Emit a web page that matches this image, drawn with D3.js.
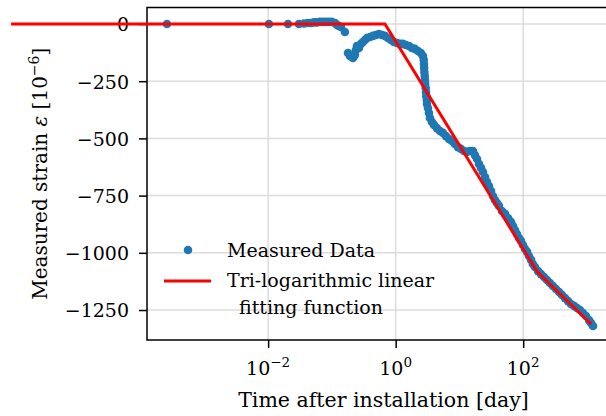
<!DOCTYPE html>
<html>
<head>
<meta charset="utf-8">
<script src="https://cdn.jsdelivr.net/npm/d3@7"></script>
<style>
  body { margin: 0; background: #fff; }
  text { font-family: "DejaVu Serif", serif; fill: #000; }
</style>
</head>
<body>
<svg id="chart" width="606" height="416"></svg>
<script>
// measured strain readings (time in days, strain in 1e-6)
const timeDays = [
  2.59e-4, 0.0103, 0.0205, 0.0304, 0.0365, 0.0421, 0.0469, 0.0522, 0.0582, 0.0650,
  0.0724, 0.0807, 0.0899, 0.100, 0.112, 0.120, 0.129, 0.139, 0.160, 0.179,
  0.192, 0.214, 0.230, 0.238, 0.247, 0.266, 0.286, 0.307, 0.330, 0.355,
  0.395, 0.441, 0.491, 0.547, 0.610, 0.679, 0.757, 0.844, 0.940, 1.05,
  1.17, 1.30, 1.45, 1.62, 1.80, 2.01, 2.24, 2.49, 2.68, 2.76,
  2.78, 2.80, 2.82, 2.86, 2.88, 2.90, 2.96, 2.99, 3.02, 3.08,
  3.10, 3.21, 3.33, 3.45, 3.71, 3.99, 4.44, 4.95, 5.52, 6.15,
  6.86, 7.64, 8.51, 9.49, 10.6, 11.8, 13.1, 14.6, 16.3, 17.5,
  18.9, 20.3, 21.8, 23.4, 25.2, 27.0, 29.1, 31.3, 33.6, 36.1,
  38.8, 41.7, 46.5, 51.9, 57.8, 64.4, 69.2, 74.4, 79.9, 85.9,
  92.3, 99.3, 107, 115, 123, 133, 142, 153, 171, 190,
  212, 236, 263, 293, 327, 365, 406, 453, 505, 562,
  627, 698, 778, 867, 966, 1077, 1158, 1245
];
const strainMeasured = [
  0, 0, 0, 0, 2, 4, 4, 7, 7, 9,
  9, 9, 9, 9, 4, -4, -9, -13, -35, -127,
  -140, -149, -135, -114, -96, -105, -87, -79, -70, -61,
  -57, -52, -48, -44, -48, -52, -61, -70, -79, -83,
  -87, -87, -92, -96, -105, -109, -118, -127, -140, -157,
  -175, -192, -210, -227, -245, -262, -280, -297, -315, -332,
  -350, -367, -389, -411, -428, -441, -455, -468, -476, -490,
  -503, -511, -524, -538, -546, -555, -559, -555, -555, -573,
  -590, -612, -629, -647, -669, -690, -708, -730, -752, -769,
  -782, -795, -817, -830, -848, -865, -883, -900, -918, -935,
  -948, -966, -983, -996, -1014, -1031, -1049, -1062, -1080, -1093,
  -1106, -1119, -1132, -1145, -1158, -1171, -1184, -1198, -1211, -1224,
  -1232, -1241, -1250, -1263, -1276, -1294, -1307, -1320
];

// tri-logarithmic linear fit: breakpoints
const fitTimes = [9.3e-7, 0.68, 165, 1170];
const fitStrain = [0, 0, -1082, -1312];

const yTicks = [0, -250, -500, -750, -1000, -1250];
const xTickExps = [-2, 0, 2];

const legendLabels = ["Measured Data", "Tri-logarithmic linear", "fitting function"];

const svg = d3.select("#chart");
const plotLeft = 147, plotRight = 620, plotTop = 7.5, plotBottom = 340;

const x = d3.scaleLog().domain([1.26e-4, 3300]).range([plotLeft, plotRight]);
const y = d3.scaleLinear().domain([-1381, 72]).range([plotBottom, plotTop]);

// grid
const grid = svg.append("g");
grid.selectAll(".gx")
    .data(xTickExps)
    .enter().append("line")
    .attr("x1", d => x(Math.pow(10, d)))
    .attr("x2", d => x(Math.pow(10, d)))
    .attr("y1", plotTop).attr("y2", plotBottom)
    .attr("stroke", "#dcdcdc").attr("stroke-width", 1.5);
grid.selectAll(".gy")
    .data(yTicks)
    .enter().append("line")
    .attr("x1", plotLeft).attr("x2", plotRight)
    .attr("y1", d => y(d)).attr("y2", d => y(d))
    .attr("stroke", "#dcdcdc").attr("stroke-width", 1.5);

// scatter, clipped to the axes
svg.append("clipPath").attr("id", "plotclip")
    .append("rect").attr("x", plotLeft).attr("y", plotTop)
    .attr("width", plotRight - plotLeft).attr("height", plotBottom - plotTop);

svg.append("g").attr("clip-path", "url(#plotclip)")
    .selectAll("circle")
    .data(timeDays.map((t, i) => [t, strainMeasured[i]]))
    .enter().append("circle")
    .attr("cx", d => x(d[0]))
    .attr("cy", d => y(d[1]))
    .attr("r", 4.3)
    .attr("fill", "#1f77b4");

// spines
svg.append("rect")
    .attr("x", plotLeft).attr("y", plotTop)
    .attr("width", plotRight - plotLeft).attr("height", plotBottom - plotTop)
    .attr("fill", "none").attr("stroke", "#000").attr("stroke-width", 1.5);

// y axis
const yAxis = svg.append("g")
    .attr("transform", `translate(${plotLeft},0)`)
    .call(d3.axisLeft(y).tickValues(yTicks).tickFormat(d3.format("d"))
        .tickSize(8).tickSizeOuter(0).tickPadding(10));
yAxis.select(".domain").remove();
yAxis.selectAll(".tick line").attr("stroke", "#000").attr("stroke-width", 1.5);
yAxis.selectAll(".tick text")
    .style("font-family", "'DejaVu Serif', serif")
    .style("font-size", "19px")
    .attr("dy", "0.36em");

// x axis
const xAxis = svg.append("g")
    .attr("transform", `translate(0,${plotBottom})`)
    .call(d3.axisBottom(x).tickValues(xTickExps.map(e => Math.pow(10, e)))
        .tickSize(8).tickSizeOuter(0).tickFormat(""));
xAxis.select(".domain").remove();
xAxis.selectAll(".tick line").attr("stroke", "#000").attr("stroke-width", 1.5);

xTickExps.forEach(e => {
    const t = svg.append("text")
        .attr("x", x(Math.pow(10, e)))
        .attr("y", 375)
        .attr("text-anchor", "middle")
        .style("font-size", "19px");
    t.append("tspan").text("10");
    t.append("tspan").attr("dy", -8).style("font-size", "13.5px")
        .text(e < 0 ? "\u2212" + Math.abs(e) : String(e));
});

// axis labels
svg.append("text")
    .attr("x", (plotLeft + plotRight) / 2)
    .attr("y", 407)
    .attr("text-anchor", "middle")
    .style("font-size", "20.5px")
    .text("Time after installation [day]");

const yl = svg.append("text")
    .attr("transform", `translate(47,${(plotTop + plotBottom) / 2}) rotate(-90)`)
    .attr("text-anchor", "middle")
    .style("font-size", "20px");
yl.append("tspan").text("Measured strain ");
yl.append("tspan").style("font-style", "italic").text("\u03b5");
yl.append("tspan").text(" [10");
yl.append("tspan").attr("dy", -8).style("font-size", "14px").text("\u22126");
yl.append("tspan").attr("dy", 8).text("]");

// fit line (not clipped, extends past the left spine)
svg.append("path")
    .datum(fitTimes.map((t, i) => [t, fitStrain[i]]))
    .attr("d", d3.line().x(d => x(d[0])).y(d => y(d[1])))
    .attr("fill", "none")
    .attr("stroke", "#ff0000")
    .attr("stroke-width", 3);

// legend
const lg = svg.append("g");
lg.append("circle").attr("cx", 188).attr("cy", 250).attr("r", 4.3).attr("fill", "#1f77b4");
lg.append("line").attr("x1", 164).attr("x2", 211).attr("y1", 281).attr("y2", 281)
    .attr("stroke", "#ff0000").attr("stroke-width", 3);
lg.append("text").attr("x", 227).attr("y", 257).style("font-size", "19px").text(legendLabels[0]);
lg.append("text").attr("x", 227).attr("y", 287).style("font-size", "19px").text(legendLabels[1]);
lg.append("text").attr("x", 239).attr("y", 314).style("font-size", "19px").text(legendLabels[2]);
</script>
</body>
</html>
